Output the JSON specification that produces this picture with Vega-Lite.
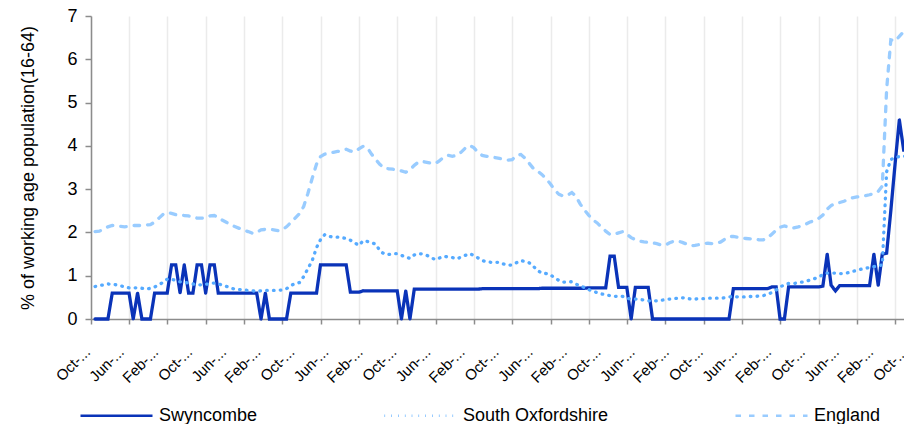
{
  "$schema": "https://vega.github.io/schema/vega-lite/v6.json",
  "width": 813,
  "height": 303,
  "autosize": {"type": "none"},
  "padding": {"left": 91, "top": 16, "right": 0, "bottom": 105},
  "background": "white",
  "config": {
    "view": {"stroke": null},
    "font": "Liberation Sans",
    "axis": {"labelFont": "Liberation Sans", "titleFont": "Liberation Sans", "labelColor": "#000000", "titleColor": "#000000"},
    "legend": {"labelFont": "Liberation Sans", "labelColor": "#000000"}
  },
  "data": {
    "values": [
      {"month":"2004-10","Swyncombe":0,"South Oxfordshire":0.75,"England":2.02},
      {"month":"2004-11","Swyncombe":0,"South Oxfordshire":0.77,"England":2.03},
      {"month":"2004-12","Swyncombe":0,"South Oxfordshire":0.79,"England":2.08},
      {"month":"2005-01","Swyncombe":0,"South Oxfordshire":0.81,"England":2.13},
      {"month":"2005-02","Swyncombe":0.6,"South Oxfordshire":0.80,"England":2.16},
      {"month":"2005-03","Swyncombe":0.6,"South Oxfordshire":0.79,"England":2.16},
      {"month":"2005-04","Swyncombe":0.6,"South Oxfordshire":0.77,"England":2.14},
      {"month":"2005-05","Swyncombe":0.6,"South Oxfordshire":0.74,"England":2.13},
      {"month":"2005-06","Swyncombe":0.6,"South Oxfordshire":0.72,"England":2.14},
      {"month":"2005-07","Swyncombe":0,"South Oxfordshire":0.72,"England":2.16},
      {"month":"2005-08","Swyncombe":0.6,"South Oxfordshire":0.72,"England":2.16},
      {"month":"2005-09","Swyncombe":0,"South Oxfordshire":0.71,"England":2.16},
      {"month":"2005-10","Swyncombe":0,"South Oxfordshire":0.69,"England":2.17},
      {"month":"2005-11","Swyncombe":0,"South Oxfordshire":0.71,"England":2.18},
      {"month":"2005-12","Swyncombe":0.6,"South Oxfordshire":0.74,"England":2.24},
      {"month":"2006-01","Swyncombe":0.6,"South Oxfordshire":0.79,"England":2.33},
      {"month":"2006-02","Swyncombe":0.6,"South Oxfordshire":0.85,"England":2.42},
      {"month":"2006-03","Swyncombe":0.6,"South Oxfordshire":0.92,"England":2.46},
      {"month":"2006-04","Swyncombe":1.25,"South Oxfordshire":0.92,"England":2.44},
      {"month":"2006-05","Swyncombe":1.25,"South Oxfordshire":0.89,"England":2.41},
      {"month":"2006-06","Swyncombe":0.6,"South Oxfordshire":0.86,"England":2.40},
      {"month":"2006-07","Swyncombe":1.25,"South Oxfordshire":0.85,"England":2.39},
      {"month":"2006-08","Swyncombe":0.6,"South Oxfordshire":0.83,"England":2.38},
      {"month":"2006-09","Swyncombe":0.6,"South Oxfordshire":0.81,"England":2.36},
      {"month":"2006-10","Swyncombe":1.25,"South Oxfordshire":0.79,"England":2.33},
      {"month":"2006-11","Swyncombe":1.25,"South Oxfordshire":0.79,"England":2.33},
      {"month":"2006-12","Swyncombe":0.6,"South Oxfordshire":0.80,"England":2.34},
      {"month":"2007-01","Swyncombe":1.25,"South Oxfordshire":0.82,"England":2.38},
      {"month":"2007-02","Swyncombe":1.25,"South Oxfordshire":0.83,"England":2.39},
      {"month":"2007-03","Swyncombe":0.6,"South Oxfordshire":0.81,"England":2.35},
      {"month":"2007-04","Swyncombe":0.6,"South Oxfordshire":0.78,"England":2.28},
      {"month":"2007-05","Swyncombe":0.6,"South Oxfordshire":0.75,"England":2.23},
      {"month":"2007-06","Swyncombe":0.6,"South Oxfordshire":0.71,"England":2.17},
      {"month":"2007-07","Swyncombe":0.6,"South Oxfordshire":0.69,"England":2.13},
      {"month":"2007-08","Swyncombe":0.6,"South Oxfordshire":0.68,"England":2.09},
      {"month":"2007-09","Swyncombe":0.6,"South Oxfordshire":0.67,"England":2.05},
      {"month":"2007-10","Swyncombe":0.6,"South Oxfordshire":0.66,"England":2.02},
      {"month":"2007-11","Swyncombe":0.6,"South Oxfordshire":0.65,"England":1.98},
      {"month":"2007-12","Swyncombe":0.6,"South Oxfordshire":0.64,"England":2.00},
      {"month":"2008-01","Swyncombe":0,"South Oxfordshire":0.65,"England":2.06},
      {"month":"2008-02","Swyncombe":0.6,"South Oxfordshire":0.66,"England":2.07},
      {"month":"2008-03","Swyncombe":0,"South Oxfordshire":0.66,"England":2.07},
      {"month":"2008-04","Swyncombe":0,"South Oxfordshire":0.66,"England":2.06},
      {"month":"2008-05","Swyncombe":0,"South Oxfordshire":0.66,"England":2.04},
      {"month":"2008-06","Swyncombe":0,"South Oxfordshire":0.67,"England":2.06},
      {"month":"2008-07","Swyncombe":0,"South Oxfordshire":0.70,"England":2.13},
      {"month":"2008-08","Swyncombe":0.6,"South Oxfordshire":0.77,"England":2.23},
      {"month":"2008-09","Swyncombe":0.6,"South Oxfordshire":0.82,"England":2.33},
      {"month":"2008-10","Swyncombe":0.6,"South Oxfordshire":0.84,"England":2.43},
      {"month":"2008-11","Swyncombe":0.6,"South Oxfordshire":0.98,"England":2.6},
      {"month":"2008-12","Swyncombe":0.6,"South Oxfordshire":1.16,"England":2.9},
      {"month":"2009-01","Swyncombe":0.6,"South Oxfordshire":1.35,"England":3.25},
      {"month":"2009-02","Swyncombe":0.6,"South Oxfordshire":1.65,"England":3.58},
      {"month":"2009-03","Swyncombe":1.25,"South Oxfordshire":1.83,"England":3.75},
      {"month":"2009-04","Swyncombe":1.25,"South Oxfordshire":1.95,"England":3.81},
      {"month":"2009-05","Swyncombe":1.25,"South Oxfordshire":1.91,"England":3.83},
      {"month":"2009-06","Swyncombe":1.25,"South Oxfordshire":1.89,"England":3.85},
      {"month":"2009-07","Swyncombe":1.25,"South Oxfordshire":1.89,"England":3.87},
      {"month":"2009-08","Swyncombe":1.25,"South Oxfordshire":1.88,"England":3.89},
      {"month":"2009-09","Swyncombe":1.25,"South Oxfordshire":1.86,"England":3.92},
      {"month":"2009-10","Swyncombe":0.62,"South Oxfordshire":1.82,"England":3.88},
      {"month":"2009-11","Swyncombe":0.62,"South Oxfordshire":1.76,"England":3.86},
      {"month":"2009-12","Swyncombe":0.62,"South Oxfordshire":1.70,"England":3.93},
      {"month":"2010-01","Swyncombe":0.65,"South Oxfordshire":1.81,"England":3.99},
      {"month":"2010-02","Swyncombe":0.65,"South Oxfordshire":1.79,"England":3.95},
      {"month":"2010-03","Swyncombe":0.65,"South Oxfordshire":1.76,"England":3.81},
      {"month":"2010-04","Swyncombe":0.65,"South Oxfordshire":1.73,"England":3.68},
      {"month":"2010-05","Swyncombe":0.65,"South Oxfordshire":1.57,"England":3.57},
      {"month":"2010-06","Swyncombe":0.65,"South Oxfordshire":1.50,"England":3.48},
      {"month":"2010-07","Swyncombe":0.65,"South Oxfordshire":1.49,"England":3.47},
      {"month":"2010-08","Swyncombe":0.65,"South Oxfordshire":1.51,"England":3.46},
      {"month":"2010-09","Swyncombe":0.65,"South Oxfordshire":1.51,"England":3.44},
      {"month":"2010-10","Swyncombe":0,"South Oxfordshire":1.47,"England":3.42},
      {"month":"2010-11","Swyncombe":0.65,"South Oxfordshire":1.43,"England":3.39},
      {"month":"2010-12","Swyncombe":0,"South Oxfordshire":1.40,"England":3.45},
      {"month":"2011-01","Swyncombe":0.69,"South Oxfordshire":1.48,"England":3.55},
      {"month":"2011-02","Swyncombe":0.69,"South Oxfordshire":1.51,"England":3.63},
      {"month":"2011-03","Swyncombe":0.69,"South Oxfordshire":1.50,"England":3.64},
      {"month":"2011-04","Swyncombe":0.69,"South Oxfordshire":1.47,"England":3.62},
      {"month":"2011-05","Swyncombe":0.69,"South Oxfordshire":1.42,"England":3.60},
      {"month":"2011-06","Swyncombe":0.69,"South Oxfordshire":1.37,"England":3.59},
      {"month":"2011-07","Swyncombe":0.69,"South Oxfordshire":1.41,"England":3.66},
      {"month":"2011-08","Swyncombe":0.69,"South Oxfordshire":1.45,"England":3.74},
      {"month":"2011-09","Swyncombe":0.69,"South Oxfordshire":1.43,"England":3.78},
      {"month":"2011-10","Swyncombe":0.69,"South Oxfordshire":1.42,"England":3.76},
      {"month":"2011-11","Swyncombe":0.69,"South Oxfordshire":1.39,"England":3.78},
      {"month":"2011-12","Swyncombe":0.69,"South Oxfordshire":1.43,"England":3.85},
      {"month":"2012-01","Swyncombe":0.69,"South Oxfordshire":1.47,"England":3.95},
      {"month":"2012-02","Swyncombe":0.69,"South Oxfordshire":1.51,"England":4.01},
      {"month":"2012-03","Swyncombe":0.69,"South Oxfordshire":1.47,"England":3.96},
      {"month":"2012-04","Swyncombe":0.69,"South Oxfordshire":1.41,"England":3.85},
      {"month":"2012-05","Swyncombe":0.7,"South Oxfordshire":1.35,"England":3.78},
      {"month":"2012-06","Swyncombe":0.7,"South Oxfordshire":1.32,"England":3.76},
      {"month":"2012-07","Swyncombe":0.7,"South Oxfordshire":1.31,"England":3.75},
      {"month":"2012-08","Swyncombe":0.7,"South Oxfordshire":1.31,"England":3.73},
      {"month":"2012-09","Swyncombe":0.7,"South Oxfordshire":1.31,"England":3.71},
      {"month":"2012-10","Swyncombe":0.7,"South Oxfordshire":1.27,"England":3.69},
      {"month":"2012-11","Swyncombe":0.7,"South Oxfordshire":1.24,"England":3.67},
      {"month":"2012-12","Swyncombe":0.7,"South Oxfordshire":1.25,"England":3.68},
      {"month":"2013-01","Swyncombe":0.7,"South Oxfordshire":1.30,"England":3.78},
      {"month":"2013-02","Swyncombe":0.7,"South Oxfordshire":1.35,"England":3.80},
      {"month":"2013-03","Swyncombe":0.7,"South Oxfordshire":1.33,"England":3.72},
      {"month":"2013-04","Swyncombe":0.7,"South Oxfordshire":1.30,"England":3.60},
      {"month":"2013-05","Swyncombe":0.7,"South Oxfordshire":1.22,"England":3.48},
      {"month":"2013-06","Swyncombe":0.7,"South Oxfordshire":1.12,"England":3.42},
      {"month":"2013-07","Swyncombe":0.71,"South Oxfordshire":1.06,"England":3.34},
      {"month":"2013-08","Swyncombe":0.71,"South Oxfordshire":1.05,"England":3.24},
      {"month":"2013-09","Swyncombe":0.71,"South Oxfordshire":1.02,"England":3.12},
      {"month":"2013-10","Swyncombe":0.71,"South Oxfordshire":0.95,"England":2.98},
      {"month":"2013-11","Swyncombe":0.71,"South Oxfordshire":0.89,"England":2.88},
      {"month":"2013-12","Swyncombe":0.71,"South Oxfordshire":0.85,"England":2.84},
      {"month":"2014-01","Swyncombe":0.71,"South Oxfordshire":0.86,"England":2.86},
      {"month":"2014-02","Swyncombe":0.71,"South Oxfordshire":0.86,"England":2.92},
      {"month":"2014-03","Swyncombe":0.71,"South Oxfordshire":0.81,"England":2.84},
      {"month":"2014-04","Swyncombe":0.71,"South Oxfordshire":0.76,"England":2.66},
      {"month":"2014-05","Swyncombe":0.71,"South Oxfordshire":0.73,"England":2.52},
      {"month":"2014-06","Swyncombe":0.72,"South Oxfordshire":0.68,"England":2.40},
      {"month":"2014-07","Swyncombe":0.72,"South Oxfordshire":0.64,"England":2.29},
      {"month":"2014-08","Swyncombe":0.72,"South Oxfordshire":0.61,"England":2.22},
      {"month":"2014-09","Swyncombe":0.72,"South Oxfordshire":0.58,"England":2.12},
      {"month":"2014-10","Swyncombe":0.72,"South Oxfordshire":0.56,"England":2.03},
      {"month":"2014-11","Swyncombe":1.45,"South Oxfordshire":0.54,"England":1.95},
      {"month":"2014-12","Swyncombe":1.45,"South Oxfordshire":0.52,"England":1.96},
      {"month":"2015-01","Swyncombe":0.73,"South Oxfordshire":0.53,"England":1.99},
      {"month":"2015-02","Swyncombe":0.73,"South Oxfordshire":0.52,"England":2.02},
      {"month":"2015-03","Swyncombe":0.73,"South Oxfordshire":0.48,"England":1.96},
      {"month":"2015-04","Swyncombe":0,"South Oxfordshire":0.46,"England":1.88},
      {"month":"2015-05","Swyncombe":0.73,"South Oxfordshire":0.46,"England":1.83},
      {"month":"2015-06","Swyncombe":0.73,"South Oxfordshire":0.45,"England":1.80},
      {"month":"2015-07","Swyncombe":0.73,"South Oxfordshire":0.44,"England":1.78},
      {"month":"2015-08","Swyncombe":0.73,"South Oxfordshire":0.42,"England":1.77},
      {"month":"2015-09","Swyncombe":0,"South Oxfordshire":0.41,"England":1.76},
      {"month":"2015-10","Swyncombe":0,"South Oxfordshire":0.42,"England":1.74},
      {"month":"2015-11","Swyncombe":0,"South Oxfordshire":0.43,"England":1.71},
      {"month":"2015-12","Swyncombe":0,"South Oxfordshire":0.45,"England":1.71},
      {"month":"2016-01","Swyncombe":0,"South Oxfordshire":0.46,"England":1.76},
      {"month":"2016-02","Swyncombe":0,"South Oxfordshire":0.47,"England":1.80},
      {"month":"2016-03","Swyncombe":0,"South Oxfordshire":0.48,"England":1.80},
      {"month":"2016-04","Swyncombe":0,"South Oxfordshire":0.49,"England":1.77},
      {"month":"2016-05","Swyncombe":0,"South Oxfordshire":0.48,"England":1.73},
      {"month":"2016-06","Swyncombe":0,"South Oxfordshire":0.46,"England":1.69},
      {"month":"2016-07","Swyncombe":0,"South Oxfordshire":0.46,"England":1.70},
      {"month":"2016-08","Swyncombe":0,"South Oxfordshire":0.47,"England":1.72},
      {"month":"2016-09","Swyncombe":0,"South Oxfordshire":0.47,"England":1.74},
      {"month":"2016-10","Swyncombe":0,"South Oxfordshire":0.48,"England":1.75},
      {"month":"2016-11","Swyncombe":0,"South Oxfordshire":0.48,"England":1.74},
      {"month":"2016-12","Swyncombe":0,"South Oxfordshire":0.48,"England":1.75},
      {"month":"2017-01","Swyncombe":0,"South Oxfordshire":0.48,"England":1.78},
      {"month":"2017-02","Swyncombe":0,"South Oxfordshire":0.49,"England":1.85},
      {"month":"2017-03","Swyncombe":0,"South Oxfordshire":0.51,"England":1.90},
      {"month":"2017-04","Swyncombe":0.7,"South Oxfordshire":0.52,"England":1.91},
      {"month":"2017-05","Swyncombe":0.7,"South Oxfordshire":0.51,"England":1.89},
      {"month":"2017-06","Swyncombe":0.7,"South Oxfordshire":0.51,"England":1.87},
      {"month":"2017-07","Swyncombe":0.7,"South Oxfordshire":0.51,"England":1.86},
      {"month":"2017-08","Swyncombe":0.7,"South Oxfordshire":0.52,"England":1.85},
      {"month":"2017-09","Swyncombe":0.7,"South Oxfordshire":0.52,"England":1.85},
      {"month":"2017-10","Swyncombe":0.7,"South Oxfordshire":0.53,"England":1.83},
      {"month":"2017-11","Swyncombe":0.7,"South Oxfordshire":0.54,"England":1.83},
      {"month":"2017-12","Swyncombe":0.7,"South Oxfordshire":0.57,"England":1.87},
      {"month":"2018-01","Swyncombe":0.74,"South Oxfordshire":0.61,"England":1.96},
      {"month":"2018-02","Swyncombe":0.74,"South Oxfordshire":0.67,"England":2.05},
      {"month":"2018-03","Swyncombe":0,"South Oxfordshire":0.74,"England":2.12},
      {"month":"2018-04","Swyncombe":0,"South Oxfordshire":0.79,"England":2.15},
      {"month":"2018-05","Swyncombe":0.74,"South Oxfordshire":0.82,"England":2.12},
      {"month":"2018-06","Swyncombe":0.74,"South Oxfordshire":0.82,"England":2.10},
      {"month":"2018-07","Swyncombe":0.74,"South Oxfordshire":0.83,"England":2.12},
      {"month":"2018-08","Swyncombe":0.74,"South Oxfordshire":0.85,"England":2.15},
      {"month":"2018-09","Swyncombe":0.74,"South Oxfordshire":0.87,"England":2.19},
      {"month":"2018-10","Swyncombe":0.74,"South Oxfordshire":0.90,"England":2.24},
      {"month":"2018-11","Swyncombe":0.74,"South Oxfordshire":0.93,"England":2.27},
      {"month":"2018-12","Swyncombe":0.74,"South Oxfordshire":0.97,"England":2.32},
      {"month":"2019-01","Swyncombe":0.76,"South Oxfordshire":1.02,"England":2.40},
      {"month":"2019-02","Swyncombe":1.5,"South Oxfordshire":1.06,"England":2.54},
      {"month":"2019-03","Swyncombe":0.78,"South Oxfordshire":1.06,"England":2.62},
      {"month":"2019-04","Swyncombe":0.65,"South Oxfordshire":1.06,"England":2.67},
      {"month":"2019-05","Swyncombe":0.77,"South Oxfordshire":1.05,"England":2.69},
      {"month":"2019-06","Swyncombe":0.77,"South Oxfordshire":1.05,"England":2.72},
      {"month":"2019-07","Swyncombe":0.77,"South Oxfordshire":1.07,"England":2.76},
      {"month":"2019-08","Swyncombe":0.77,"South Oxfordshire":1.10,"England":2.80},
      {"month":"2019-09","Swyncombe":0.77,"South Oxfordshire":1.12,"England":2.82},
      {"month":"2019-10","Swyncombe":0.77,"South Oxfordshire":1.15,"England":2.83},
      {"month":"2019-11","Swyncombe":0.77,"South Oxfordshire":1.17,"England":2.85},
      {"month":"2019-12","Swyncombe":0.77,"South Oxfordshire":1.19,"England":2.87},
      {"month":"2020-01","Swyncombe":1.5,"South Oxfordshire":1.21,"England":2.90},
      {"month":"2020-02","Swyncombe":0.78,"South Oxfordshire":1.23,"England":2.95},
      {"month":"2020-03","Swyncombe":1.5,"South Oxfordshire":1.25,"England":3.07},
      {"month":"2020-04","Swyncombe":1.52,"South Oxfordshire":3.4,"England":5.3},
      {"month":"2020-05","Swyncombe":2.5,"South Oxfordshire":3.68,"England":6.45},
      {"month":"2020-06","Swyncombe":3.6,"South Oxfordshire":3.74,"England":6.42},
      {"month":"2020-07","Swyncombe":4.6,"South Oxfordshire":3.75,"England":6.53},
      {"month":"2020-08","Swyncombe":3.9,"South Oxfordshire":3.76,"England":6.64},
      {"month":"2020-09","Swyncombe":3.9,"South Oxfordshire":3.76,"England":6.6},
      {"month":"2020-10","Swyncombe":3.9,"South Oxfordshire":3.7,"England":6.5}
    ],
    "format": {"parse": {"month": "utc:'%Y-%m'"}}
  },
  "transform": [
    {"fold": ["Swyncombe", "South Oxfordshire", "England"], "as": ["area", "value"]}
  ],
  "mark": {"type": "line", "strokeWidth": 3.3, "strokeCap": "round"},
  "encoding": {
    "x": {
      "field": "month",
      "type": "temporal",
      "scale": {
        "type": "utc",
        "domain": [{"year": 2004, "month": 9, "date": 2, "utc": true}, {"year": 2020, "month": 11, "date": 30, "utc": true}],
        "range": [0, 829.6]
      },
      "axis": {
        "title": null,
        "values": [
          {"year":2004,"month":10,"date":1,"utc":true},{"year":2005,"month":6,"date":1,"utc":true},{"year":2006,"month":2,"date":1,"utc":true},
          {"year":2006,"month":10,"date":1,"utc":true},{"year":2007,"month":6,"date":1,"utc":true},{"year":2008,"month":2,"date":1,"utc":true},
          {"year":2008,"month":10,"date":1,"utc":true},{"year":2009,"month":6,"date":1,"utc":true},{"year":2010,"month":2,"date":1,"utc":true},
          {"year":2010,"month":10,"date":1,"utc":true},{"year":2011,"month":6,"date":1,"utc":true},{"year":2012,"month":2,"date":1,"utc":true},
          {"year":2012,"month":10,"date":1,"utc":true},{"year":2013,"month":6,"date":1,"utc":true},{"year":2014,"month":2,"date":1,"utc":true},
          {"year":2014,"month":10,"date":1,"utc":true},{"year":2015,"month":6,"date":1,"utc":true},{"year":2016,"month":2,"date":1,"utc":true},
          {"year":2016,"month":10,"date":1,"utc":true},{"year":2017,"month":6,"date":1,"utc":true},{"year":2018,"month":2,"date":1,"utc":true},
          {"year":2018,"month":10,"date":1,"utc":true},{"year":2019,"month":6,"date":1,"utc":true},{"year":2020,"month":2,"date":1,"utc":true},
          {"year":2020,"month":10,"date":1,"utc":true},
          {"year":2004,"month":9,"date":2,"utc":true},{"year":2005,"month":6,"date":2,"utc":true},{"year":2006,"month":3,"date":2,"utc":true},
          {"year":2006,"month":12,"date":2,"utc":true},{"year":2007,"month":9,"date":2,"utc":true},{"year":2008,"month":6,"date":2,"utc":true},
          {"year":2009,"month":3,"date":2,"utc":true},{"year":2009,"month":12,"date":2,"utc":true},{"year":2010,"month":9,"date":2,"utc":true},
          {"year":2011,"month":6,"date":2,"utc":true},{"year":2012,"month":3,"date":2,"utc":true},{"year":2012,"month":12,"date":2,"utc":true},
          {"year":2013,"month":9,"date":2,"utc":true},{"year":2014,"month":6,"date":2,"utc":true},{"year":2015,"month":3,"date":2,"utc":true},
          {"year":2015,"month":12,"date":2,"utc":true},{"year":2016,"month":9,"date":2,"utc":true},{"year":2017,"month":6,"date":2,"utc":true},
          {"year":2018,"month":3,"date":2,"utc":true},{"year":2018,"month":12,"date":2,"utc":true},{"year":2019,"month":9,"date":2,"utc":true},
          {"year":2020,"month":6,"date":2,"utc":true}
        ],
        "labelExpr": "utcdate(datum.value) == 1 ? utcFormat(datum.value, '%b') + '-...' : ''",
        "labelAngle": -45,
        "labelAlign": "right",
        "labelBaseline": "middle",
        "labelFontSize": 15,
        "labelPadding": 25,
        "labelOffset": -8,
        "labelOverlap": false,
        "labelFlush": false,
        "labelBound": false,
        "domainColor": "#8c8c8c",
        "domainWidth": 1.5,
        "tickColor": "#8c8c8c",
        "tickWidth": 1.5,
        "tickSize": 5,
        "tickOpacity": {"condition": {"test": "utcdate(datum.value) == 1", "value": 0}, "value": 1},
        "grid": true,
        "gridColor": "#ebebeb",
        "gridWidth": 1.5,
        "gridOpacity": {"condition": {"test": "utcdate(datum.value) == 1", "value": 0}, "value": 1}
      }
    },
    "y": {
      "field": "value",
      "type": "quantitative",
      "scale": {"domain": [0, 7], "nice": false},
      "axis": {
        "title": "% of working age population(16-64)",
        "titleFontSize": 18,
        "titleFontWeight": "normal",
        "titlePadding": 29,
        "values": [0, 1, 2, 3, 4, 5, 6, 7],
        "labelFontSize": 18,
        "labelPadding": 8,
        "grid": false,
        "domainColor": "#8c8c8c",
        "domainWidth": 1.5,
        "tickColor": "#8c8c8c",
        "tickWidth": 1.5,
        "tickSize": 6
      }
    },
    "color": {
      "field": "area",
      "type": "nominal",
      "scale": {"domain": ["Swyncombe", "South Oxfordshire", "England"], "range": ["#0a33b8", "#55aaff", "#99ccff"]},
      "legend": {
        "title": null,
        "orient": "none",
        "legendX": -12,
        "legendY": 362,
        "direction": "horizontal",
        "columns": 3,
        "columnPadding": 121,
        "padding": 0,
        "symbolType": "stroke",
        "symbolSize": 5184,
        "symbolStrokeWidth": 2.5,
        "labelFontSize": 18,
        "labelOffset": 5,
        "labelLimit": 400
      }
    },
    "strokeDash": {
      "field": "area",
      "type": "nominal",
      "scale": {"domain": ["Swyncombe", "South Oxfordshire", "England"], "range": [[1, 0], [0.6, 6.2], [5.5, 8]]},
      "legend": {
        "title": null,
        "orient": "none",
        "legendX": -12,
        "legendY": 362,
        "direction": "horizontal",
        "columns": 3,
        "columnPadding": 121,
        "padding": 0,
        "symbolType": "stroke",
        "symbolSize": 5184,
        "symbolStrokeWidth": 2.5,
        "labelFontSize": 18,
        "labelOffset": 5,
        "labelLimit": 400
      }
    }
  }
}
